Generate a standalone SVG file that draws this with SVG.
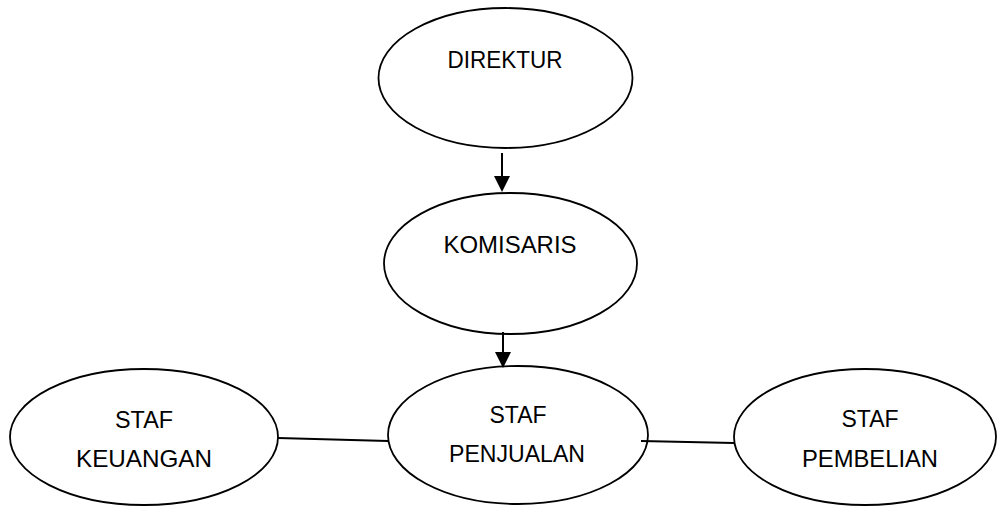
<svg xmlns="http://www.w3.org/2000/svg" width="997" height="506" viewBox="0 0 997 506">
<style>
.n{fill:#fff;stroke:#000;stroke-width:1.8}
.t{font-family:"Liberation Sans",Arial,sans-serif;font-size:24px;fill:#000;text-anchor:middle}
.c{stroke:#000;stroke-width:2;fill:none}
</style>
<defs>
<marker id="ah" markerWidth="8" markerHeight="8" refX="7" refY="4" orient="auto" markerUnits="strokeWidth">
<path d="M0,0 L8,4 L0,8 z" fill="#000"/>
</marker>
</defs>
<rect width="997" height="506" fill="#fff"/>
<g id="direktur"><ellipse class="n" cx="505.5" cy="78" rx="127" ry="70"/><text class="t" x="505" y="68" textLength="115" lengthAdjust="spacingAndGlyphs">DIREKTUR</text></g>
<g id="komisaris"><ellipse class="n" cx="510.5" cy="263.5" rx="126.5" ry="70.5"/><text class="t" x="510" y="253" textLength="133" lengthAdjust="spacingAndGlyphs">KOMISARIS</text></g>
<g id="staf-penjualan"><ellipse class="n" cx="518" cy="435" rx="130" ry="69"/><text class="t" x="518" y="423" textLength="57" lengthAdjust="spacingAndGlyphs">STAF</text><text class="t" x="517" y="462" textLength="136" lengthAdjust="spacingAndGlyphs">PENJUALAN</text></g>
<g id="staf-keuangan"><ellipse class="n" cx="144" cy="437" rx="134" ry="68"/><text class="t" x="144" y="428" textLength="58" lengthAdjust="spacingAndGlyphs">STAF</text><text class="t" x="144" y="467" textLength="136" lengthAdjust="spacingAndGlyphs">KEUANGAN</text></g>
<g id="staf-pembelian"><ellipse class="n" cx="865" cy="437" rx="131" ry="68"/><text class="t" x="870" y="427" textLength="57" lengthAdjust="spacingAndGlyphs">STAF</text><text class="t" x="870" y="467" textLength="136" lengthAdjust="spacingAndGlyphs">PEMBELIAN</text></g>
<g id="connectors">
<line class="c" x1="502" y1="153" x2="502" y2="190" marker-end="url(#ah)"/>
<line class="c" x1="503" y1="332" x2="503" y2="366" marker-end="url(#ah)"/>
<line class="c" x1="278" y1="438" x2="388" y2="441"/>
<line class="c" x1="641" y1="441" x2="734" y2="443"/>
</g>
</svg>
